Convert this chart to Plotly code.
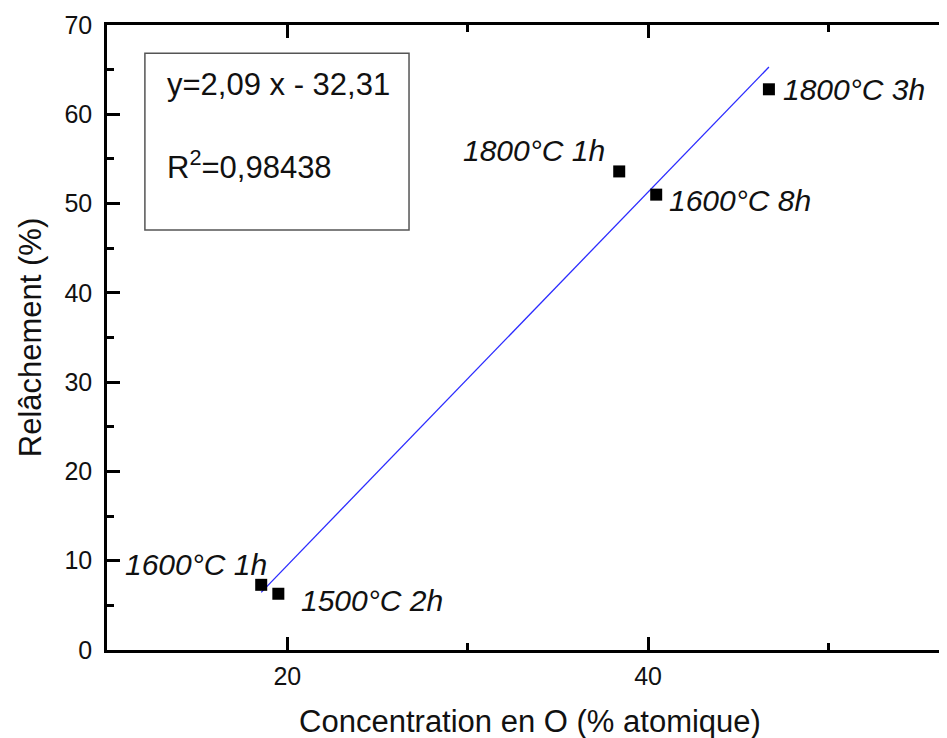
import plotly.graph_objects as go

# Data
conc_O = [18.55, 19.5, 38.4, 40.45, 46.7]
relachement = [7.3, 6.3, 53.6, 51.0, 62.8]
labels = ["1600°C 1h", "1500°C 2h", "1800°C 1h", "1600°C 8h", "1800°C 3h"]

fit_slope = 2.09
fit_intercept = -32.31
fit_r2 = "0,98438"

# label placement (px offsets relative to points)
lab_xanchor = ["right", "left", "right", "left", "left"]
lab_xshift = [8, 21, -12, 11, 12]
lab_yshift = [20, -7, 21, -6, 0]

FONT = "Liberation Sans, Arial, sans-serif"

fit_x = [min(conc_O), max(conc_O)]
fit_y = [fit_slope * v + fit_intercept for v in fit_x]

fig = go.Figure()
fig.add_trace(go.Scatter(x=fit_x, y=fit_y, mode="lines",
                         line=dict(color="#2b2bff", width=1.3),
                         showlegend=False, hoverinfo="skip"))
fig.add_trace(go.Scatter(x=conc_O, y=relachement, mode="markers",
                         marker=dict(symbol="square", size=12, color="black"),
                         showlegend=False))

for xv, yv, t, xa, xs, ys in zip(conc_O, relachement, labels, lab_xanchor, lab_xshift, lab_yshift):
    fig.add_annotation(x=xv, y=yv, text=f"<i>{t}</i>", showarrow=False,
                       xanchor=xa, yanchor="middle", xshift=xs, yshift=ys,
                       font=dict(family=FONT, size=30, color="#111"))

# equation box
fig.add_shape(type="rect", xref="paper", yref="paper",
              x0=0.0448, x1=0.357, y0=0.672, y1=0.955,
              line=dict(color="#555", width=1.5), fillcolor="rgba(0,0,0,0)")
fig.add_annotation(xref="paper", yref="paper", x=0.0683, y=0.904,
                   text=f"y={str(fit_slope).replace('.', ',')} x - {str(-fit_intercept).replace('.', ',')}",
                   showarrow=False, xanchor="left", yanchor="middle",
                   font=dict(family=FONT, size=31, color="#111"))
fig.add_annotation(xref="paper", yref="paper", x=0.0683, y=0.776,
                   text=f"R<sup>2</sup>={fit_r2}",
                   showarrow=False, xanchor="left", yanchor="middle",
                   font=dict(family=FONT, size=31, color="#111"))

axis_common = dict(showline=True, linecolor="black", linewidth=2.5,
                   ticks="inside", ticklen=13, tickwidth=2.5, tickcolor="black",
                   showgrid=False, zeroline=False, mirror="ticks",
                   tickfont=dict(family=FONT, size=25, color="#111"))

fig.update_xaxes(range=[10, 10 + 849 / 18.1], tick0=0, dtick=20,
                 minor=dict(dtick=10, tick0=0, ticks="inside", ticklen=7, tickwidth=2.5, tickcolor="black"),
                 title=dict(text="Concentration en O (% atomique)",
                            font=dict(family=FONT, size=31, color="#111"), standoff=22),
                 ticklabelstandoff=2,
                 **axis_common)
fig.update_yaxes(range=[0, 70], tick0=0, dtick=10,
                 minor=dict(dtick=5, tick0=0, ticks="inside", ticklen=7, tickwidth=2.5, tickcolor="black"),
                 title=dict(text="Relâchement (%)",
                            font=dict(family=FONT, size=31, color="#111"), standoff=14),
                 ticklabelstandoff=7,
                 **axis_common)

fig.update_layout(width=948, height=738,
                  margin=dict(l=99, r=0, t=17, b=96),
                  plot_bgcolor="white", paper_bgcolor="white")

fig.write_html("out.html")
